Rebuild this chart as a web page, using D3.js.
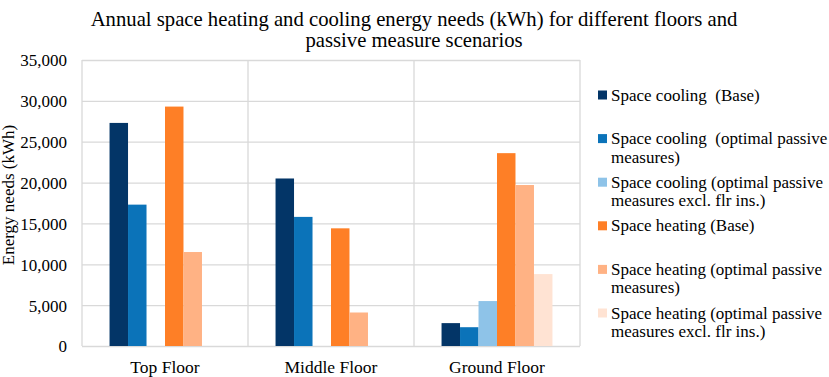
<!DOCTYPE html>
<html><head><meta charset="utf-8">
<script src="https://cdn.jsdelivr.net/npm/d3@7/dist/d3.min.js"></script>
<style>body{margin:0;background:#fff}svg{display:block}text{font-family:"Liberation Serif","Times New Roman",serif;fill:#000;white-space:pre}</style>
</head><body><svg id="c" width="829" height="377"></svg>
<script>
const categories = ["Top Floor", "Middle Floor", "Ground Floor"];
const seriesNames = [
  "Space cooling  (Base)",
  "Space cooling  (optimal passive measures)",
  "Space cooling (optimal passive measures excl. flr ins.)",
  "Space heating (Base)",
  "Space heating (optimal passive measures)",
  "Space heating (optimal passive measures excl. flr ins.)"
];
const legendLines = [
  ["Space cooling  (Base)"],
  ["Space cooling  (optimal passive", "measures)"],
  ["Space cooling (optimal passive", "measures excl. flr ins.)"],
  ["Space heating (Base)"],
  ["Space heating (optimal passive", "measures)"],
  ["Space heating (optimal passive", "measures excl. flr ins.)"]
];
const coolingBase = [27300, 20500, 2800];
const coolingOpt = [17300, 15800, 2300];
const coolingOptExcl = [0, 0, 5500];
const heatingBase = [29300, 14400, 23600];
const heatingOpt = [11500, 4100, 19700];
const heatingOptExcl = [0, 0, 8800];
const seriesValues = [coolingBase, coolingOpt, coolingOptExcl, heatingBase, heatingOpt, heatingOptExcl];
const colors = ["#033567", "#0b73b9", "#8ec3e8", "#fe7f26", "#ffb284", "#ffe3d3"];
const yTicks = [0, 5000, 10000, 15000, 20000, 25000, 30000, 35000];
const titleLines = ["Annual space heating and cooling energy needs (kWh) for different floors and", "passive measure scenarios"];

const svg = d3.select("#c");
const L = 82, R = 580, T = 60, B = 346;
const x0 = d3.scaleBand().domain(categories).range([L, R]).paddingInner(0).paddingOuter(0);
const x1 = d3.scaleBand().domain(d3.range(seriesNames.length)).range([0, x0.bandwidth()]).paddingInner(0).paddingOuter(1.49);
const y = d3.scaleLinear().domain([0, 35000]).range([B, T]);

// gridlines
const yAxis = d3.axisLeft(y).tickValues(yTicks).tickSize(-(R - L)).tickFormat(d3.format(","));
const ga = svg.append("g").attr("transform", `translate(${L},0)`).call(yAxis);
ga.select(".domain").remove();
ga.selectAll(".tick line").attr("stroke", "#d9d9d9").attr("stroke-width", 1.3);
ga.selectAll(".tick text").attr("x", -15).attr("font-size", 17).attr("dy", "0.35em");

// vertical dividers
const divs = [L, ...categories.map(c => x0(c) + x0.bandwidth())];
svg.append("g").selectAll("line").data(divs).join("line")
  .attr("x1", d => d).attr("x2", d => d).attr("y1", T).attr("y2", B)
  .attr("stroke", "#d9d9d9").attr("stroke-width", 1.3);

// bars
const gc = svg.append("g").selectAll("g").data(categories).join("g")
  .attr("transform", d => `translate(${x0(d)},0)`);
gc.selectAll("rect").data((c, ci) => seriesValues.map((s, si) => ({si, v: s[ci]}))).join("rect")
  .attr("x", d => x1(d.si)).attr("width", x1.bandwidth())
  .attr("y", d => y(d.v)).attr("height", d => B - y(d.v))
  .attr("fill", d => colors[d.si]);

// x labels
svg.append("g").selectAll("text").data(categories).join("text")
  .attr("x", d => x0(d) + x0.bandwidth() / 2).attr("y", 373)
  .attr("text-anchor", "middle").attr("font-size", 17.5).text(d => d);

// y title
svg.append("text").attr("transform", "translate(14,195) rotate(-90)")
  .attr("text-anchor", "middle").attr("font-size", 17).text("Energy needs (kWh)");

// title
svg.append("g").selectAll("text").data(titleLines).join("text")
  .attr("x", 414).attr("y", (d, i) => 26 + i * 21)
  .attr("text-anchor", "middle").attr("font-size", 20.7).text(d => d);

// legend
const lg = svg.append("g").selectAll("g").data(legendLines).join("g")
  .attr("transform", (d, i) => `translate(598,${95 + i * 43.6})`);
lg.append("rect").attr("x", 0).attr("y", -4.5).attr("width", 9).attr("height", 9)
  .attr("fill", (d, i) => colors[i]);
lg.each(function(lines) {
  const t = d3.select(this).append("text").attr("x", 13).attr("y", 5.5).attr("font-size", 17);
  lines.forEach((ln, k) => t.append("tspan").attr("x", 13).attr("dy", k === 0 ? 0 : 18.5).text(ln));
});
</script></body></html>
